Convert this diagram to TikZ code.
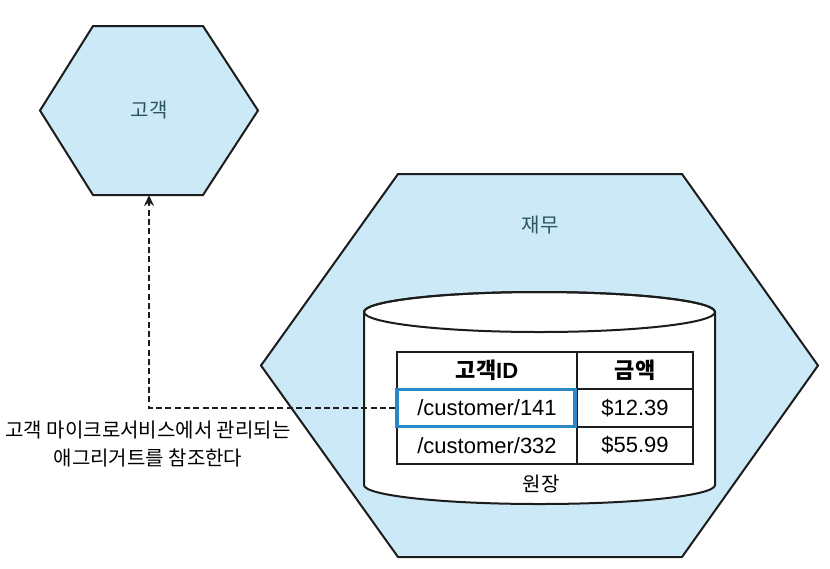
\documentclass[tikz,border=0pt]{standalone}
\usepackage{fontspec}
\setmainfont{Liberation Sans}
\newfontfamily\kr{Noto Sans CJK KR}
\usetikzlibrary{arrows.meta}
\definecolor{hexfill}{HTML}{CBE9F6}
\definecolor{tealtxt}{HTML}{2A5561}
\definecolor{hilite}{HTML}{2B88C8}
\definecolor{ink}{HTML}{1C1C1C}
\tikzset{
  hexline/.style={draw=ink, line width=1.5pt, fill=hexfill, line join=miter},
  cellbox/.style={draw=ink, line width=1.5pt, fill=white, inner sep=0pt, anchor=center,
    font=\fontsize{16.5pt}{18pt}\selectfont},
  colA/.style={cellbox, minimum width=135pt},
  colB/.style={cellbox, minimum width=87pt},
  rowh/.style={minimum height=27.75pt},
  rowm/.style={minimum height=28.5pt},
  hexlabel/.style={text=tealtxt, font=\kr\fontsize{15pt}{16pt}\selectfont, inner sep=0pt},
  refline/.style={draw=ink, line width=1.6pt, dash pattern=on 4.5pt off 2.5pt},
  reftip/.style={-{Stealth[length=8pt,width=7.5pt]}},
}
\begin{document}
\begin{tikzpicture}[x=0.75pt,y=-0.75pt]
\useasboundingbox (0,0) rectangle (830,568);

% small hexagon (customer)
\node[minimum width=163.5pt, minimum height=126.75pt, inner sep=0pt] (cust) at (149,110.5) {};
\path[hexline] (93,26) -- (203,26) -- (258,110.5) -- (203,195) -- (93,195) -- (40,110.5) -- cycle;
\node[hexlabel] (custlabel) at (cust.center) {고객};

% big hexagon (finance)
\node[minimum width=417.75pt, minimum height=287.25pt, inner sep=0pt] (fin) at (539.5,365.5) {};
\path[hexline] (398,174) -- (682,174) -- (818,365.5) -- (682,557) -- (398,557) -- (261,365.5) -- cycle;
\node[hexlabel] (finlabel) at (540,225) {재무};

% cylinder (ledger)
\path[draw=ink, line width=1.5pt, fill=white]
  (364,312) -- (364,485) arc[start angle=180, end angle=0, x radius=175.5, y radius=19]
  -- (715,312) arc[start angle=0, end angle=-180, x radius=175.5, y radius=20] -- cycle;
\draw[draw=ink, line width=1.5pt] (539.5,312) ellipse[x radius=175.5, y radius=20];
\node[font=\kr\fontsize{15pt}{16pt}\selectfont, inner sep=0pt] (ledger) at (541,484) {원장};

% table
\node[colA, rowh] (h1) at (487,370.5) {\bfseries{\kr 고객}ID};
\node[colB, rowh] (h2) at (635,370.5) {\kr\bfseries 금액};
\node[colA, rowm] (r1a) at (487,408) {/customer/141};
\node[colB, rowm] (r1b) at (635,408) {\$12.39};
\node[colA, rowh] (r2a) at (487,445.5) {/customer/332};
\node[colB, rowh] (r2b) at (635,445.5) {\$55.99};
\node[draw=hilite, line width=2.4pt, minimum width=133.5pt, minimum height=27.5pt, inner sep=0pt] (hl) at (486,408) {};

% reference connector
\draw[refline, reftip] (hl.west) -| (cust.south);

% annotation
\node[font=\kr\fontsize{15pt}{21pt}\selectfont, align=center, inner sep=0pt] (note) at (148,444)
  {고객 마이크로서비스에서 관리되는\\애그리거트를 참조한다};
\end{tikzpicture}
\end{document}
